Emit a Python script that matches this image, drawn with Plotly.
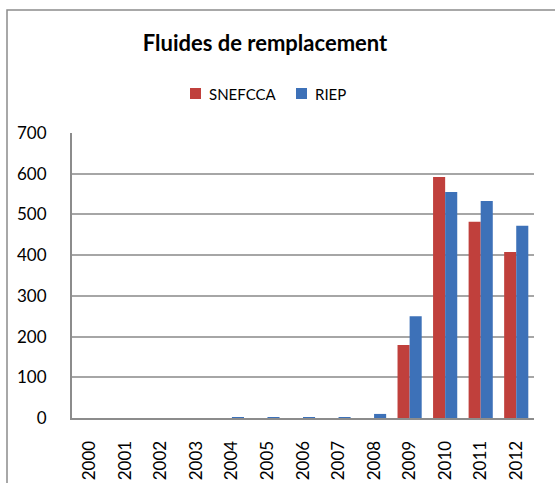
import plotly.graph_objects as go

years = ["2000", "2001", "2002", "2003", "2004", "2005", "2006", "2007", "2008", "2009", "2010", "2011", "2012"]
snefcca = [0, 0, 0, 0, 0, 0, 0, 0, 0, 179, 592, 482, 408]
riep = [0, 0, 0, 0, 2, 2, 2, 1, 10, 250, 555, 533, 472]
series_names = ["SNEFCCA", "RIEP"]
colors = ["#C0403C", "#3D71B8"]

W, H = 555, 483
PL, PR, PT, PB = 72, 534, 133, 418  # plot area in pixels
L, R, T, B = PL, W - PR, PT, H - PB
pw, ph = PR - PL, PB - PT

def px(x):
    return (x - PL) / pw

def py(y):
    return (PB - y) / ph

fig = go.Figure()
for name, vals, col in zip(series_names, [snefcca, riep], colors):
    fig.add_trace(go.Bar(name=name, x=years, y=vals, showlegend=False,
                         marker=dict(color=col, line=dict(width=0))))

font = "Lato, 'Open Sans', 'Liberation Sans', sans-serif"

shapes = [dict(type="rect", xref="paper", yref="paper",
               x0=px(7), x1=px(620), y0=py(10), y1=py(540),
               line=dict(color="#8C8C8C", width=1.5), layer="below")]
annotations = []
legend_items = [(190, 207), (296, 313)]
for (sx, tx), name, col in zip(legend_items, series_names, colors):
    shapes.append(dict(type="rect", xref="paper", yref="paper",
                       x0=px(sx), x1=px(sx + 11), y0=py(99), y1=py(88),
                       fillcolor=col, line=dict(width=0)))
    annotations.append(dict(text=name, xref="paper", yref="paper", x=px(tx), y=py(93.5),
                            xanchor="left", yanchor="middle", showarrow=False,
                            font=dict(family=font, size=15, color="black")))

fig.update_layout(
    width=W, height=H,
    margin=dict(l=L, r=R, t=T, b=B, autoexpand=False),
    paper_bgcolor="white", plot_bgcolor="white",
    barmode="group", bargap=0.32, bargroupgap=0.0,
    title=dict(text="<b>Fluides de remplacement</b>", x=px(265), xref="paper", xanchor="center",
               y=1 - 43 / H, yanchor="middle",
               font=dict(family=font, size=22, color="black")),
    showlegend=False,
    font=dict(family=font, size=17, color="black"),
    xaxis=dict(type="category", tickangle=-90, showgrid=False, showline=True, automargin=False,
               linecolor="#8C8C8C", linewidth=2, ticks="", tickfont=dict(size=17),
               ticklabelstandoff=14),
    yaxis=dict(range=[0, 700], dtick=100, showgrid=True, gridcolor="#A6A6A6", gridwidth=1.5,
               showline=True, linecolor="#8C8C8C", linewidth=2, ticks="", zeroline=False,
               automargin=False, tickfont=dict(size=17), ticklabelstandoff=20),
    shapes=shapes,
    annotations=annotations,
)

fig.write_html("out.html",
               config={"displayModeBar": False},
               post_script="document.body.style.margin='0';document.body.style.overflow='hidden';")
